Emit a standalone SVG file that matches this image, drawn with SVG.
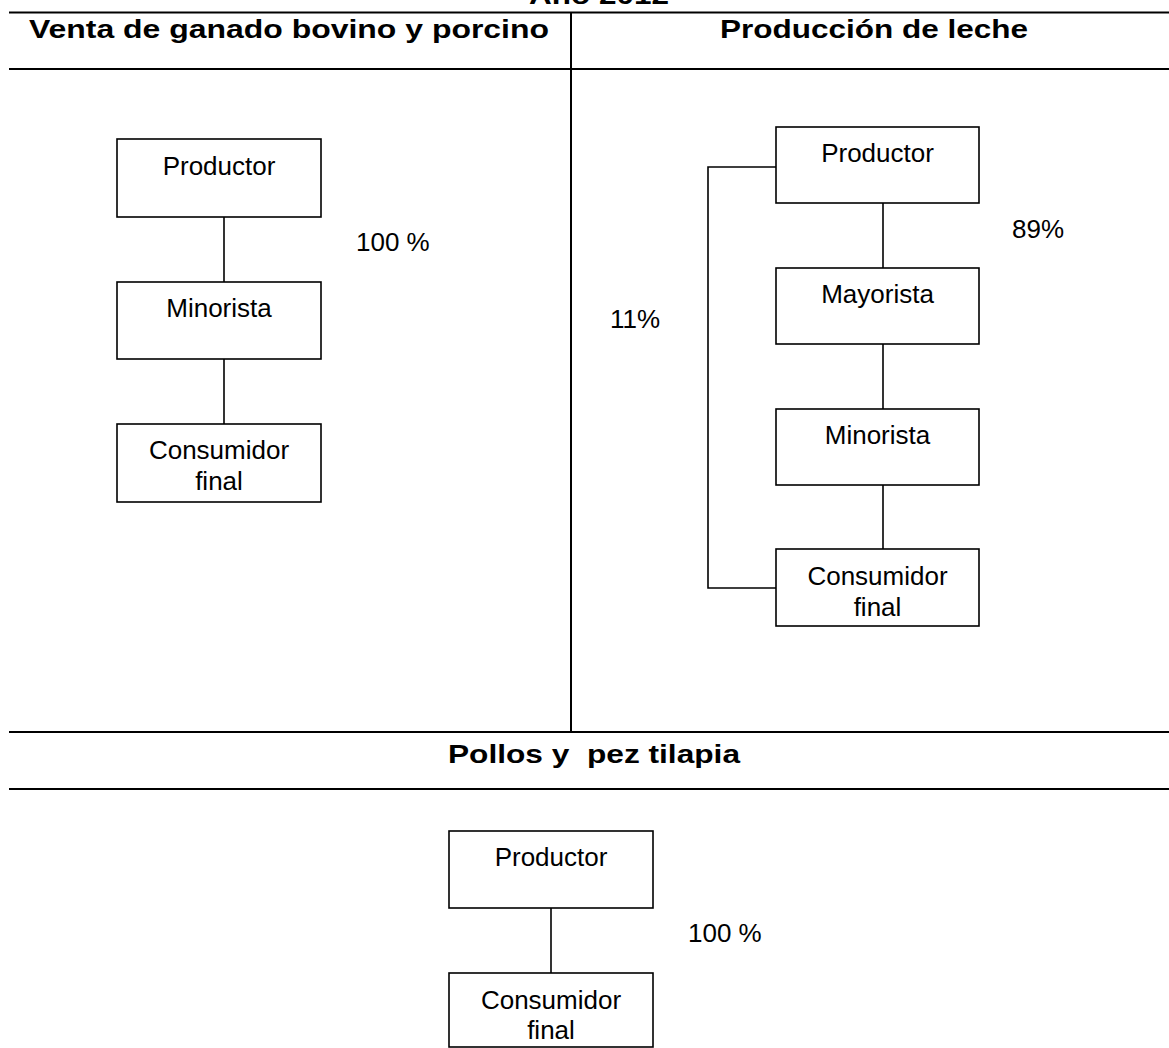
<svg xmlns="http://www.w3.org/2000/svg" width="1169" height="1048" viewBox="0 0 1169 1048">
<style>
.rule{stroke:#000;stroke-width:2.2;fill:none}
.div{stroke:#000;stroke-width:2;fill:none}
.box{fill:#fff;stroke:#000;stroke-width:1.6}
.con{stroke:#000;stroke-width:1.6;fill:none}
.hd{font-family:"Liberation Sans",Arial,sans-serif;font-weight:bold;font-size:26px;fill:#000;text-anchor:middle}
.t{font-family:"Liberation Sans",Arial,sans-serif;font-size:26px;fill:#000;text-anchor:middle}
.p{font-family:"Liberation Sans",Arial,sans-serif;font-size:26px;fill:#000}
</style>
<rect width="1169" height="1048" fill="#fff"/>
<g id="table">
<line class="rule" x1="9" y1="12.5" x2="1169" y2="12.5"/>
<line class="rule" x1="9" y1="69" x2="1169" y2="69"/>
<line class="rule" x1="9" y1="732" x2="1169" y2="732"/>
<line class="rule" x1="9" y1="789" x2="1169" y2="789"/>
<line class="div" x1="571" y1="12" x2="571" y2="732"/>
<text class="hd" x="599" y="4" textLength="140" lengthAdjust="spacingAndGlyphs">Año 2012</text>
<text class="hd" x="289" y="38" textLength="520" lengthAdjust="spacingAndGlyphs">Venta de ganado bovino y porcino</text>
<text class="hd" x="874" y="38" textLength="308" lengthAdjust="spacingAndGlyphs">Producción de leche</text>
<text class="hd" x="594" y="763" textLength="292" lengthAdjust="spacingAndGlyphs" xml:space="preserve">Pollos y  pez tilapia</text>
</g>
<g id="connectors">
<line class="con" x1="224" y1="217" x2="224" y2="282"/>
<line class="con" x1="224" y1="359" x2="224" y2="424"/>
<line class="con" x1="883" y1="203" x2="883" y2="268"/>
<line class="con" x1="883" y1="344" x2="883" y2="409"/>
<line class="con" x1="883" y1="485" x2="883" y2="549"/>
<polyline class="con" points="776,167 708,167 708,588 776,588"/>
<line class="con" x1="551" y1="908" x2="551" y2="973"/>
</g>
<g id="labels">
<text class="p" x="356" y="251">100 %</text>
<text class="p" x="1012" y="238">89%</text>
<text class="p" x="610" y="328">11%</text>
<text class="p" x="688" y="942">100 %</text>
</g>
<g id="l-productor"><rect class="box" x="117" y="139" width="204" height="78"/><text class="t" x="219" y="175">Productor</text></g>
<g id="l-minorista"><rect class="box" x="117" y="282" width="204" height="77"/><text class="t" x="219" y="317">Minorista</text></g>
<g id="l-consumidor"><rect class="box" x="117" y="424" width="204" height="78"/><text class="t" x="219" y="459">Consumidor</text><text class="t" x="219" y="490">final</text></g>
<g id="r-productor"><rect class="box" x="776" y="127" width="203" height="76"/><text class="t" x="877.5" y="162">Productor</text></g>
<g id="r-mayorista"><rect class="box" x="776" y="268" width="203" height="76"/><text class="t" x="877.5" y="303">Mayorista</text></g>
<g id="r-minorista"><rect class="box" x="776" y="409" width="203" height="76"/><text class="t" x="877.5" y="444">Minorista</text></g>
<g id="r-consumidor"><rect class="box" x="776" y="549" width="203" height="77"/><text class="t" x="877.5" y="585">Consumidor</text><text class="t" x="877.5" y="616">final</text></g>
<g id="b-productor"><rect class="box" x="449" y="831" width="204" height="77"/><text class="t" x="551" y="866">Productor</text></g>
<g id="b-consumidor"><rect class="box" x="449" y="973" width="204" height="74"/><text class="t" x="551" y="1009">Consumidor</text><text class="t" x="551" y="1039">final</text></g>
</svg>
